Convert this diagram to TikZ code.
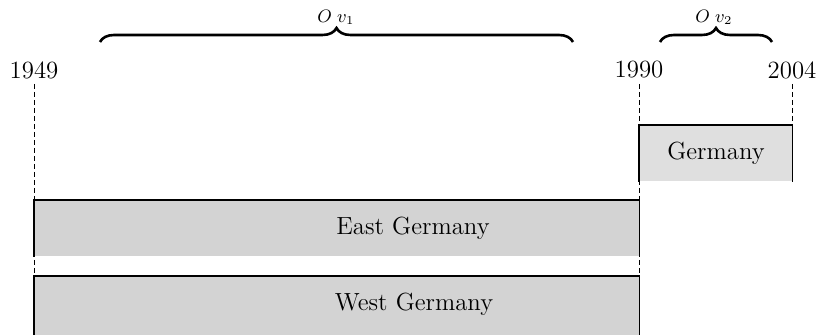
\documentclass[tikz,border=0pt]{standalone}
\usetikzlibrary{decorations.pathreplacing}
\definecolor{barfill}{HTML}{D3D3D3}
\definecolor{gerfill}{HTML}{DFDFDF}
\begin{document}
\begin{tikzpicture}[x=0.5pt,y=-0.5pt,
  year/.style={inner sep=0pt,font=\fontsize{12.4}{14}\selectfont},
  lbl/.style={inner sep=0pt,font=\fontsize{12.4}{14}\selectfont},
  ovl/.style={inner sep=0pt,font=\fontsize{9}{10}\selectfont},
  guide/.style={dash pattern=on 2.5pt off 1.5pt,line width=0.5pt},
  edge/.style={line width=0.55pt},
  bracestyle/.style={decorate,decoration={brace,amplitude=7pt},line width=1.3pt}]
\useasboundingbox (0,0) rectangle (818,335);
% year labels
\node[year] (y49) at (34,70) {1949};
\node[year] (y90) at (639,70) {1990};
\node[year] (y04) at (792,70) {2004};
\coordinate (b49) at (34,335);
\coordinate (b90) at (639,335);
% bars
\node[fill=barfill,inner sep=0pt,minimum width=302.5pt,minimum height=28pt,anchor=north west] (east) at (34,200) {};
\node[fill=barfill,inner sep=0pt,minimum width=302.5pt,minimum height=30pt,anchor=north west] (west) at (34,276) {};
\node[fill=gerfill,inner sep=0pt,minimum width=76.5pt,minimum height=28pt,anchor=north west] (ger) at (639,125) {};
% guides
\draw[guide] (y49.south |- 0,84) -- (b49);
\draw[guide] (y90.south |- 0,84) -- (b90);
\draw[guide] (ger.north east |- 0,84) -- (ger.north east);
% bar edges
\draw[edge] (east.south west) |- (east.north east) -- (east.south east);
\draw[edge] (west.south west) |- (west.north east) -- (west.south east);
\draw[edge] (ger.south west) |- (ger.north east) -- (ger.south east);
% bar labels
\node[lbl] (teast) at (413,228) {East Germany};
\node[lbl] (twest) at (414,304) {West Germany};
\node[lbl] (tger) at (716,153) {Germany};
% braces
\coordinate (o1a) at (100,42);
\coordinate (o1b) at (573,42);
\coordinate (o2a) at (660,42);
\coordinate (o2b) at (772,42);
\draw[bracestyle] (o1a) -- (o1b);
\draw[bracestyle] (o2a) -- (o2b);
\node[ovl] (ov1) at (336,17) {$O\;v_1$};
\node[ovl] (ov2) at (714,17) {$O\;v_2$};
\end{tikzpicture}
\end{document}
